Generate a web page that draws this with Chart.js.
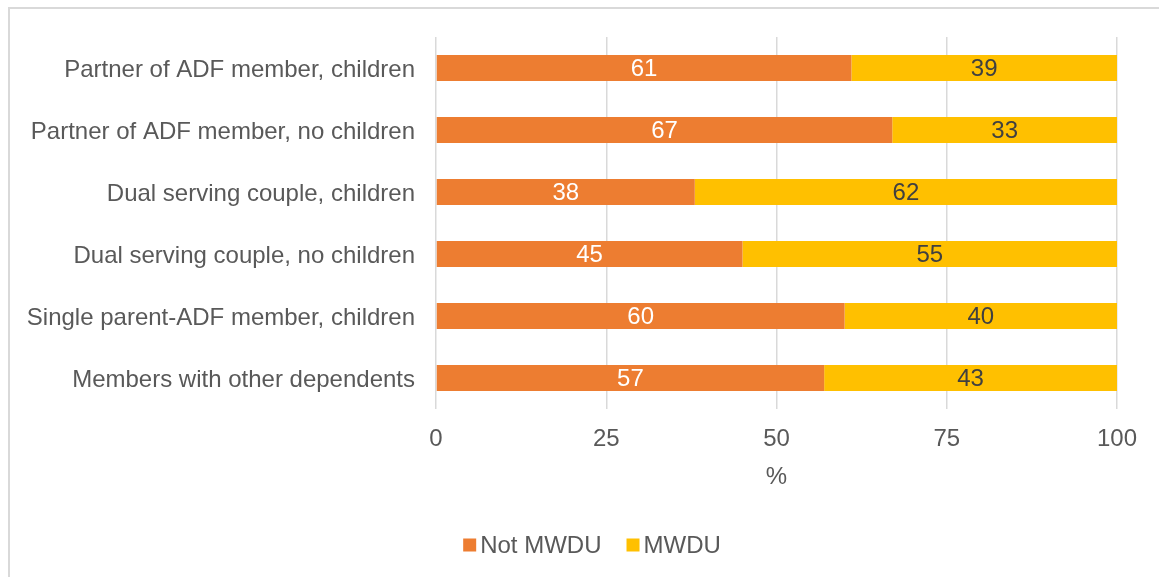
<!DOCTYPE html>
<html>
<head>
<meta charset="utf-8">
<script src="https://cdn.jsdelivr.net/npm/chart.js@4.4.1/dist/chart.umd.min.js"></script>
<style>
  html, body { margin: 0; padding: 0; background: #fff; }
  .wrap { position: relative; width: 1159px; height: 577px; overflow: hidden; }
  .frame {
    position: absolute; left: 8px; top: 7px; width: 1200px; height: 620px;
    border-top: 2px solid #D9D9D9; border-left: 2px solid #D9D9D9;
    pointer-events: none;
  }
  canvas { position: absolute; left: 0; top: 0; }
</style>
</head>
<body>
<div class="wrap">
  <canvas id="chart" width="1159" height="577"></canvas>
  <div class="frame"></div>
</div>
<script>
const categories = [
  'Partner of ADF member, children',
  'Partner of ADF member, no children',
  'Dual serving couple, children',
  'Dual serving couple, no children',
  'Single parent-ADF member, children',
  'Members with other dependents'
];
const notMwdu = [61, 67, 38, 45, 60, 57];
const mwdu = [39, 33, 62, 55, 40, 43];
const xTicks = [0, 25, 50, 75, 100];

const FONT = "'Liberation Sans', Arial, sans-serif";
const TEXT = '#595959';

// value labels in the middle of each bar segment
const barLabels = {
  id: 'barLabels',
  afterDatasetsDraw(chart) {
    const ctx = chart.ctx;
    ctx.save();
    ctx.font = '24px ' + FONT;
    ctx.textAlign = 'center';
    ctx.textBaseline = 'middle';
    chart.data.datasets.forEach((ds, i) => {
      chart.getDatasetMeta(i).data.forEach((bar, j) => {
        ctx.fillStyle = ds.labelColor;
        ctx.fillText(String(ds.data[j]), (bar.x + bar.base) / 2, bar.y + 1);
      });
    });
    ctx.restore();
  }
};

// legend drawn with a tight gap between swatch and text
const bottomLegend = {
  id: 'bottomLegend',
  afterDraw(chart) {
    const ctx = chart.ctx;
    const box = 13, gap = 4, itemGap = 25, cy = 545, cx = 592;
    ctx.save();
    ctx.font = '24px ' + FONT;
    ctx.textBaseline = 'middle';
    const items = chart.data.datasets.map(ds => ({
      text: ds.label, color: ds.backgroundColor, w: ctx.measureText(ds.label).width
    }));
    const total = items.reduce((s, it) => s + box + gap + it.w, 0) + itemGap * (items.length - 1);
    let x = cx - total / 2;
    items.forEach(it => {
      ctx.fillStyle = it.color;
      ctx.fillRect(x, cy - box / 2, box, box);
      ctx.fillStyle = TEXT;
      ctx.fillText(it.text, x + box + gap, cy + 1);
      x += box + gap + it.w + itemGap;
    });
    ctx.restore();
  }
};

new Chart(document.getElementById('chart'), {
  type: 'bar',
  data: {
    labels: categories,
    datasets: [
      { label: 'Not MWDU', data: notMwdu, backgroundColor: '#ED7D31', labelColor: '#FFFFFF' },
      { label: 'MWDU', data: mwdu, backgroundColor: '#FFC000', labelColor: '#404040' }
    ]
  },
  options: {
    indexAxis: 'y',
    responsive: false,
    animation: false,
    barPercentage: 0.42,
    categoryPercentage: 1,
    layout: { padding: { top: 37, right: 42, bottom: 0, left: 0 } },
    plugins: {
      legend: { display: false },
      tooltip: { enabled: false }
    },
    scales: {
      x: {
        stacked: true,
        min: 0,
        max: 100,
        afterBuildTicks: axis => { axis.ticks = xTicks.map(v => ({ value: v })); },
        afterFit: axis => { axis.height = 168; },
        grid: { color: '#D9D9D9', lineWidth: 1.5, drawTicks: false },
        border: { display: false },
        ticks: { color: TEXT, font: { family: FONT, size: 24 }, padding: 16 },
        title: {
          display: true, text: '%', color: TEXT,
          font: { family: FONT, size: 24 },
          padding: { top: 0, bottom: 85 }
        }
      },
      y: {
        stacked: true,
        afterFit: axis => { axis.width = 436; },
        grid: { display: false },
        border: { display: false },
        ticks: { color: TEXT, font: { family: FONT, size: 24 }, padding: 13, labelOffset: 2 }
      }
    }
  },
  plugins: [barLabels, bottomLegend]
});
</script>
</body>
</html>
